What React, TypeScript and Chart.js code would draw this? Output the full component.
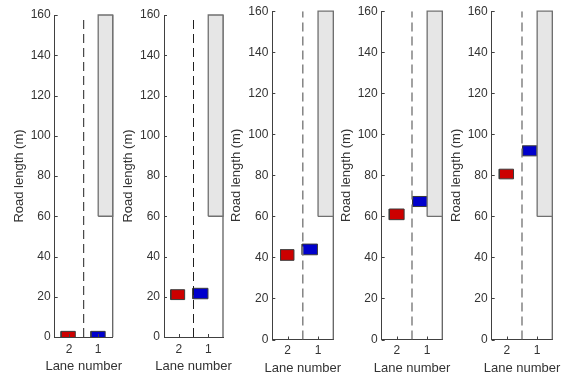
import React, { useEffect, useRef } from "react";
import { Chart, registerables } from "chart.js";

Chart.register(...registerables);

// ---- data ----
const laneTicks = [0.5, 1.5];
const laneLabels = ["2", "1"];
const yTickStep = 20;
const yMax = 160;
const xTitle = "Lane number";
const yTitle = "Road length (m)";

// vehicle in lane 2 (red) per frame: [xStart, xEnd], [yStart, yEnd]
const redX = [[0.22, 0.71], [0.23, 0.70], [0.27, 0.71], [0.25, 0.74], [0.25, 0.72]];
const redY = [[-2, 2.8], [18.6, 23.5], [38.6, 43.8], [58.4, 63.6], [78.3, 83.0]];
// vehicle in lane 1 (blue)
const blueX = [[1.25, 1.74], [0.98, 1.49], [0.98, 1.48], [1.02, 1.51], [1.02, 1.49]];
const blueY = [[-2, 2.8], [19.0, 24.2], [41.3, 46.5], [64.8, 69.7], [89.5, 94.4]];
// closed road section (lane 1)
const blockX = [1.5, 2];
const blockY = [60, 160];
// lane divider and road edge
const dividerX = 1;
const edgeX = 2;
const roadY = [0, 160];

// ---- layout (pixels) ----
const plotLeft = [54.7, 164, 272.3, 381.7, 491.7];
const plotRight = [112.7, 223, 333.3, 442.3, 552.3];
const plotTop = [15, 15, 11, 11, 11];
const plotBottom = [337, 337, 339.5, 339.5, 339.5];
const dividerColor = ["#202020", "#202020", "#7a7a7a", "#7a7a7a", "#7a7a7a"];
const xTitleY = [366.5, 366.5, 368, 368, 368];
const xTickPad = [5, 5, 4, 4, 4];

const FONT = "'Liberation Sans', Arial, Helvetica, sans-serif";
const AXIS = "#404040";
const TEXT = "#333333";
const H = 377;
const YW = 54;

function rect(x: number[], y: number[]) {
  return [
    { x: x[0], y: y[0] },
    { x: x[1], y: y[0] },
    { x: x[1], y: y[1] },
    { x: x[0], y: y[1] },
    { x: x[0], y: y[0] },
  ];
}

const inwardTicks = {
  id: "inwardTicks",
  afterDraw(chart: any, _args: any, opts: any) {
    const { ctx, chartArea, scales } = chart;
    ctx.save();
    ctx.strokeStyle = AXIS;
    ctx.lineWidth = 1;
    ctx.beginPath();
    for (let v = 0; v <= yMax; v += yTickStep) {
      const py = Math.round(scales.y.getPixelForValue(v)) + 0.5;
      ctx.moveTo(chartArea.left, py);
      ctx.lineTo(chartArea.left + 3, py);
    }
    laneTicks.forEach((v) => {
      const px = Math.round(scales.x.getPixelForValue(v)) + 0.5;
      ctx.moveTo(px, chartArea.bottom);
      ctx.lineTo(px, chartArea.bottom - 3);
    });
    ctx.stroke();
    // x-axis title (drawn without width squeezing)
    ctx.fillStyle = TEXT;
    ctx.font = `13px ${FONT}`;
    ctx.textAlign = "center";
    ctx.textBaseline = "middle";
    ctx.fillText(xTitle, (chartArea.left + chartArea.right) / 2, opts.titleY);
    ctx.restore();
  },
};

function Panel({ i }: { i: number }) {
  const ref = useRef<HTMLCanvasElement>(null);
  const canvasLeft = Math.round(plotLeft[i]) - YW;
  const yw = plotLeft[i] - canvasLeft;
  const width = Math.ceil(plotRight[i]) - canvasLeft + 40;
  const padRight = width - (plotRight[i] - canvasLeft);

  useEffect(() => {
    const chart = new Chart(ref.current as HTMLCanvasElement, {
      type: "scatter",
      data: {
        datasets: [
          {
            data: rect(blockX, blockY),
            showLine: true,
            fill: "shape",
            backgroundColor: "#e6e6e6",
            borderColor: "#707070",
            borderWidth: 1.3,
            pointRadius: 0,
            clip: false,
          } as any,
          {
            data: [{ x: edgeX, y: roadY[0] }, { x: edgeX, y: roadY[1] }],
            showLine: true,
            borderColor: "#606060",
            borderWidth: 1.3,
            pointRadius: 0,
            clip: false,
          } as any,
          {
            data: [{ x: dividerX, y: roadY[0] }, { x: dividerX, y: roadY[1] }],
            showLine: true,
            borderColor: dividerColor[i],
            borderWidth: i < 2 ? 1 : 1.4,
            borderDash: [9, 5],
            pointRadius: 0,
          } as any,
          {
            data: rect(redX[i], redY[i]),
            showLine: true,
            fill: "shape",
            backgroundColor: "#cc0000",
            borderColor: "#3a3a3a",
            borderWidth: 1,
            pointRadius: 0,
          } as any,
          {
            data: rect(blueX[i], blueY[i]),
            showLine: true,
            fill: "shape",
            backgroundColor: "#0000cc",
            borderColor: "#3a3a3a",
            borderWidth: 1,
            pointRadius: 0,
          } as any,
        ],
      },
      options: {
        animation: false,
        responsive: false,
        devicePixelRatio: 1,
        layout: { padding: { top: plotTop[i], left: 0, right: padRight, bottom: 0 } },
        plugins: {
          legend: { display: false },
          tooltip: { enabled: false },
          inwardTicks: { titleY: xTitleY[i] },
        },
        elements: { line: { tension: 0 } },
        scales: {
          x: {
            type: "linear",
            min: 0,
            max: 2,
            afterBuildTicks: (s: any) => {
              s.ticks = laneTicks.map((v) => ({ value: v }));
            },
            afterFit: (s: any) => {
              s.height = H - plotBottom[i];
            },
            grid: { display: true, drawOnChartArea: false, drawTicks: false },
            border: { display: true, color: AXIS, width: 1 },
            ticks: {
              padding: xTickPad[i],
              color: TEXT,
              font: { family: FONT, size: 12 },
              maxRotation: 0,
              autoSkip: false,
              callback: (v: any) => laneLabels[laneTicks.indexOf(Number(v))] ?? "",
            },
            title: { display: false },
          },
          y: {
            type: "linear",
            min: 0,
            max: yMax,
            afterFit: (s: any) => {
              s.width = yw;
            },
            grid: { display: true, drawOnChartArea: false, drawTicks: false },
            border: { display: true, color: AXIS, width: 1 },
            ticks: {
              stepSize: yTickStep,
              padding: 4,
              color: TEXT,
              font: { family: FONT, size: 12 },
            },
            title: {
              display: true,
              text: yTitle,
              color: TEXT,
              font: { family: FONT, size: 13 },
              padding: { top: 10.4, bottom: 0 },
            },
          },
        },
      } as any,
      plugins: [inwardTicks],
    });
    return () => chart.destroy();
  }, []);

  return (
    <canvas
      ref={ref}
      width={width}
      height={H}
      style={{ position: "absolute", left: canvasLeft, top: 0, width, height: H }}
    />
  );
}

export default function App() {
  return (
    <div
      style={{
        position: "absolute",
        left: 0,
        top: 0,
        width: 569,
        height: H,
        background: "#ffffff",
        overflow: "hidden",
      }}
    >
      {[0, 1, 2, 3, 4].map((i) => (
        <Panel key={i} i={i} />
      ))}
    </div>
  );
}
